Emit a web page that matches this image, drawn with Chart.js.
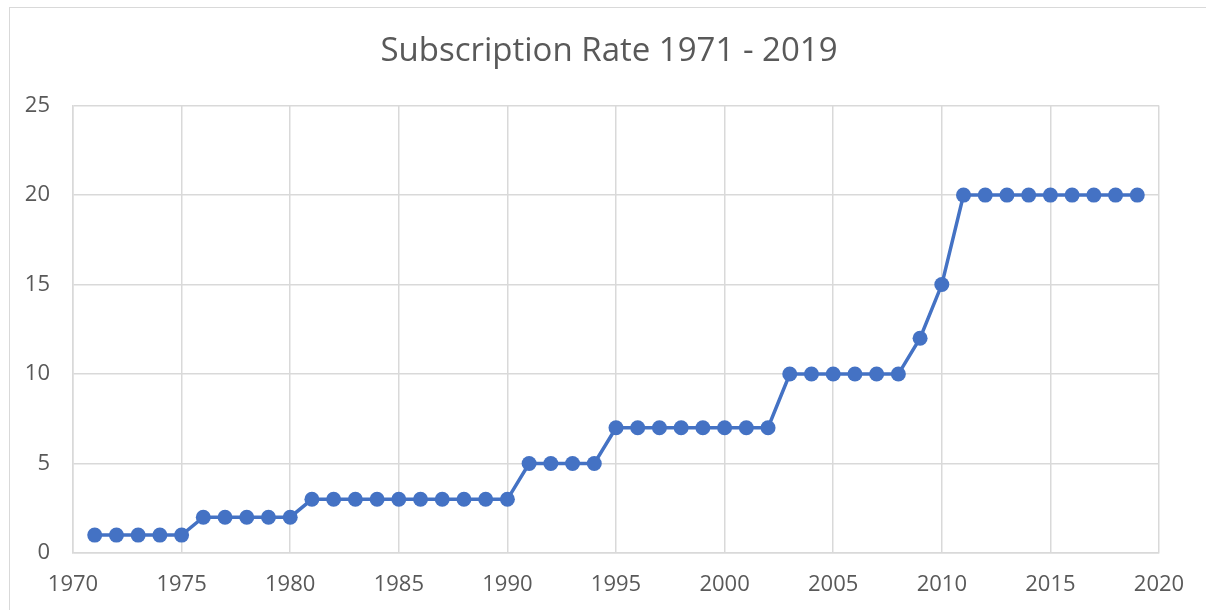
<!DOCTYPE html>
<html>
<head>
<meta charset="utf-8">
<script src="https://cdn.jsdelivr.net/npm/chart.js@4/dist/chart.umd.min.js"></script>
<style>
  html, body { margin: 0; padding: 0; background: #ffffff; overflow: hidden; }
  #wrap { position: relative; width: 1206px; height: 610px; }
  #frame { position: absolute; left: 9px; top: 7px; width: 1220px; height: 640px; border: 1px solid #d9d9d9; box-sizing: border-box; }
  canvas { position: absolute; left: 0; top: 0; }
</style>
</head>
<body>
<div id="wrap">
  <div id="frame"></div>
  <canvas id="c" width="1206" height="610"></canvas>
</div>
<script>
const chartTitle = "Subscription Rate 1971 - 2019";
const years = [1971,1972,1973,1974,1975,1976,1977,1978,1979,1980,1981,1982,1983,1984,1985,1986,1987,1988,1989,1990,1991,1992,1993,1994,1995,1996,1997,1998,1999,2000,2001,2002,2003,2004,2005,2006,2007,2008,2009,2010,2011,2012,2013,2014,2015,2016,2017,2018,2019];
const rates = [1,1,1,1,1,2,2,2,2,2,3,3,3,3,3,3,3,3,3,3,5,5,5,5,7,7,7,7,7,7,7,7,10,10,10,10,10,10,12,15,20,20,20,20,20,20,20,20,20];
const xRange = [1970, 2020];
const yRange = [0, 25];
const tickStep = 5;

const points = years.map((y, i) => ({ x: y, y: rates[i] }));
const textColor = '#595959';
const gridColor = '#d9d9d9';
const font = { family: "'Open Sans', 'Liberation Sans', sans-serif", size: 22 };

// Center the title over the framed chart box rather than the padded layout box
const titleCenterPlugin = {
  id: 'titleCenter',
  afterLayout(chart) {
    const tb = chart.titleBlock;
    if (tb) { tb.left = 12; tb.right = 1206; tb.width = tb.right - tb.left; }
  }
};

new Chart(document.getElementById('c'), {
  type: 'line',
  data: {
    datasets: [{
      data: points,
      borderColor: '#4472C4',
      backgroundColor: '#4472C4',
      borderWidth: 3.5,
      pointRadius: 7.5,
      pointHoverRadius: 7.5,
      pointBorderWidth: 0,
      tension: 0
    }]
  },
  plugins: [titleCenterPlugin],
  options: {
    responsive: false,
    animation: false,
    layout: { padding: { left: 0, right: 47, top: 0, bottom: 0 } },
    plugins: {
      legend: { display: false },
      tooltip: { enabled: false },
      title: {
        display: true,
        text: chartTitle,
        color: textColor,
        font: { family: font.family, size: 33, weight: 'normal' },
        padding: { top: 32, bottom: 34 }
      }
    },
    scales: {
      x: {
        type: 'linear',
        min: xRange[0], max: xRange[1],
        afterFit: s => { s.height = 57; },
        grid: { color: gridColor, lineWidth: 1.5, drawTicks: false },
        border: { color: gridColor, width: 1.5 },
        ticks: {
          stepSize: tickStep, color: textColor, font: font, padding: 19,
          maxRotation: 0, autoSkip: false,
          callback: v => String(v)
        }
      },
      y: {
        min: yRange[0], max: yRange[1],
        afterFit: s => { s.width = 73; },
        grid: { color: gridColor, lineWidth: 1.5, drawTicks: false },
        border: { color: gridColor, width: 1.5 },
        ticks: { stepSize: tickStep, color: textColor, font: font, padding: 23 }
      }
    }
  }
});
</script>
</body>
</html>
